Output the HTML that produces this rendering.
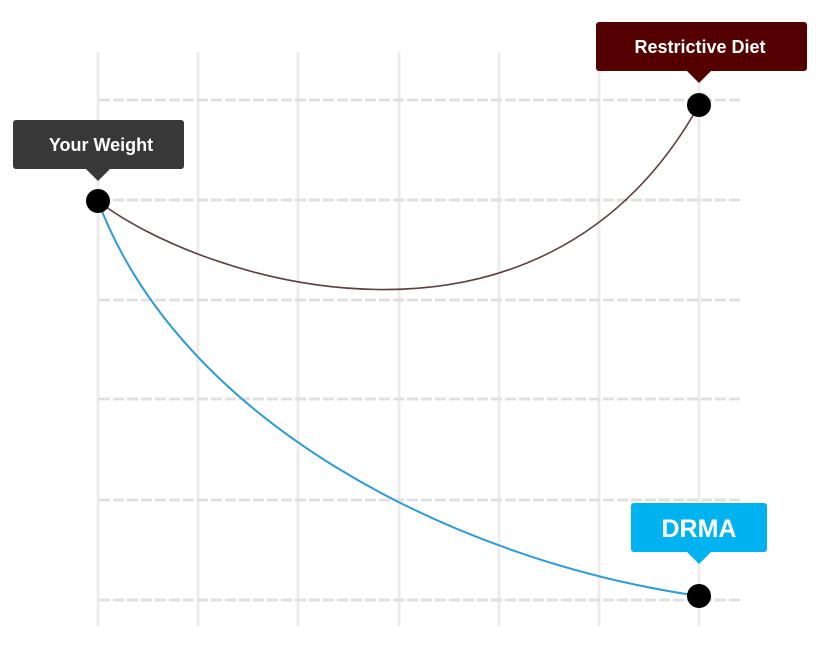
<!DOCTYPE html>
<html><head><style>
html,body{margin:0;padding:0;background:#fff;}
svg text{font-family:"Liberation Sans",sans-serif;font-weight:bold;}
</style></head><body>
<svg width="819" height="667" viewBox="0 0 819 667" xmlns="http://www.w3.org/2000/svg">
<g stroke="#ececec" stroke-width="3">
<line x1="98" y1="52" x2="98" y2="626"/>
<line x1="198" y1="52" x2="198" y2="626"/>
<line x1="298" y1="52" x2="298" y2="626"/>
<line x1="399" y1="52" x2="399" y2="626"/>
<line x1="499" y1="52" x2="499" y2="626"/>
<line x1="599" y1="52" x2="599" y2="626"/>
<line x1="699" y1="52" x2="699" y2="626"/>
</g>
<g stroke="#e0e0e0" stroke-width="3" stroke-dasharray="11 3">
<line x1="99" y1="100" x2="742" y2="100"/>
<line x1="99" y1="200" x2="742" y2="200"/>
<line x1="99" y1="300" x2="742" y2="300"/>
<line x1="99" y1="399" x2="742" y2="399"/>
<line x1="99" y1="500" x2="742" y2="500"/>
<line x1="99" y1="600" x2="742" y2="600"/>
</g>
<path d="M98 201 C200 280 540 390 699 105" fill="none" stroke="#5e4040" stroke-width="1.6"/>
<path d="M98 201 C180 420 450 560 699 596" fill="none" stroke="#2f9bd4" stroke-width="2"/>
<circle cx="98" cy="201" r="12" fill="#000"/>
<circle cx="699" cy="105" r="12" fill="#000"/>
<circle cx="699" cy="596" r="12" fill="#000"/>
<rect x="13" y="120" width="171" height="49" rx="3" fill="#383838"/>
<polygon points="86,169 110,169 98,181" fill="#383838"/>
<text x="101" y="151" font-size="18" fill="#fff" text-anchor="middle">Your Weight</text>
<rect x="596" y="22" width="211" height="49" rx="3" fill="#550000"/>
<polygon points="687,71 711,71 699,83" fill="#550000"/>
<text x="700" y="53" font-size="18" fill="#fff" text-anchor="middle">Restrictive Diet</text>
<rect x="631" y="503" width="136" height="49" rx="3" fill="#00b2f0"/>
<polygon points="687,552 711,552 699,564" fill="#00b2f0"/>
<text x="699" y="537" font-size="25" fill="#fff" text-anchor="middle">DRMA</text>
</svg>
</body></html>
